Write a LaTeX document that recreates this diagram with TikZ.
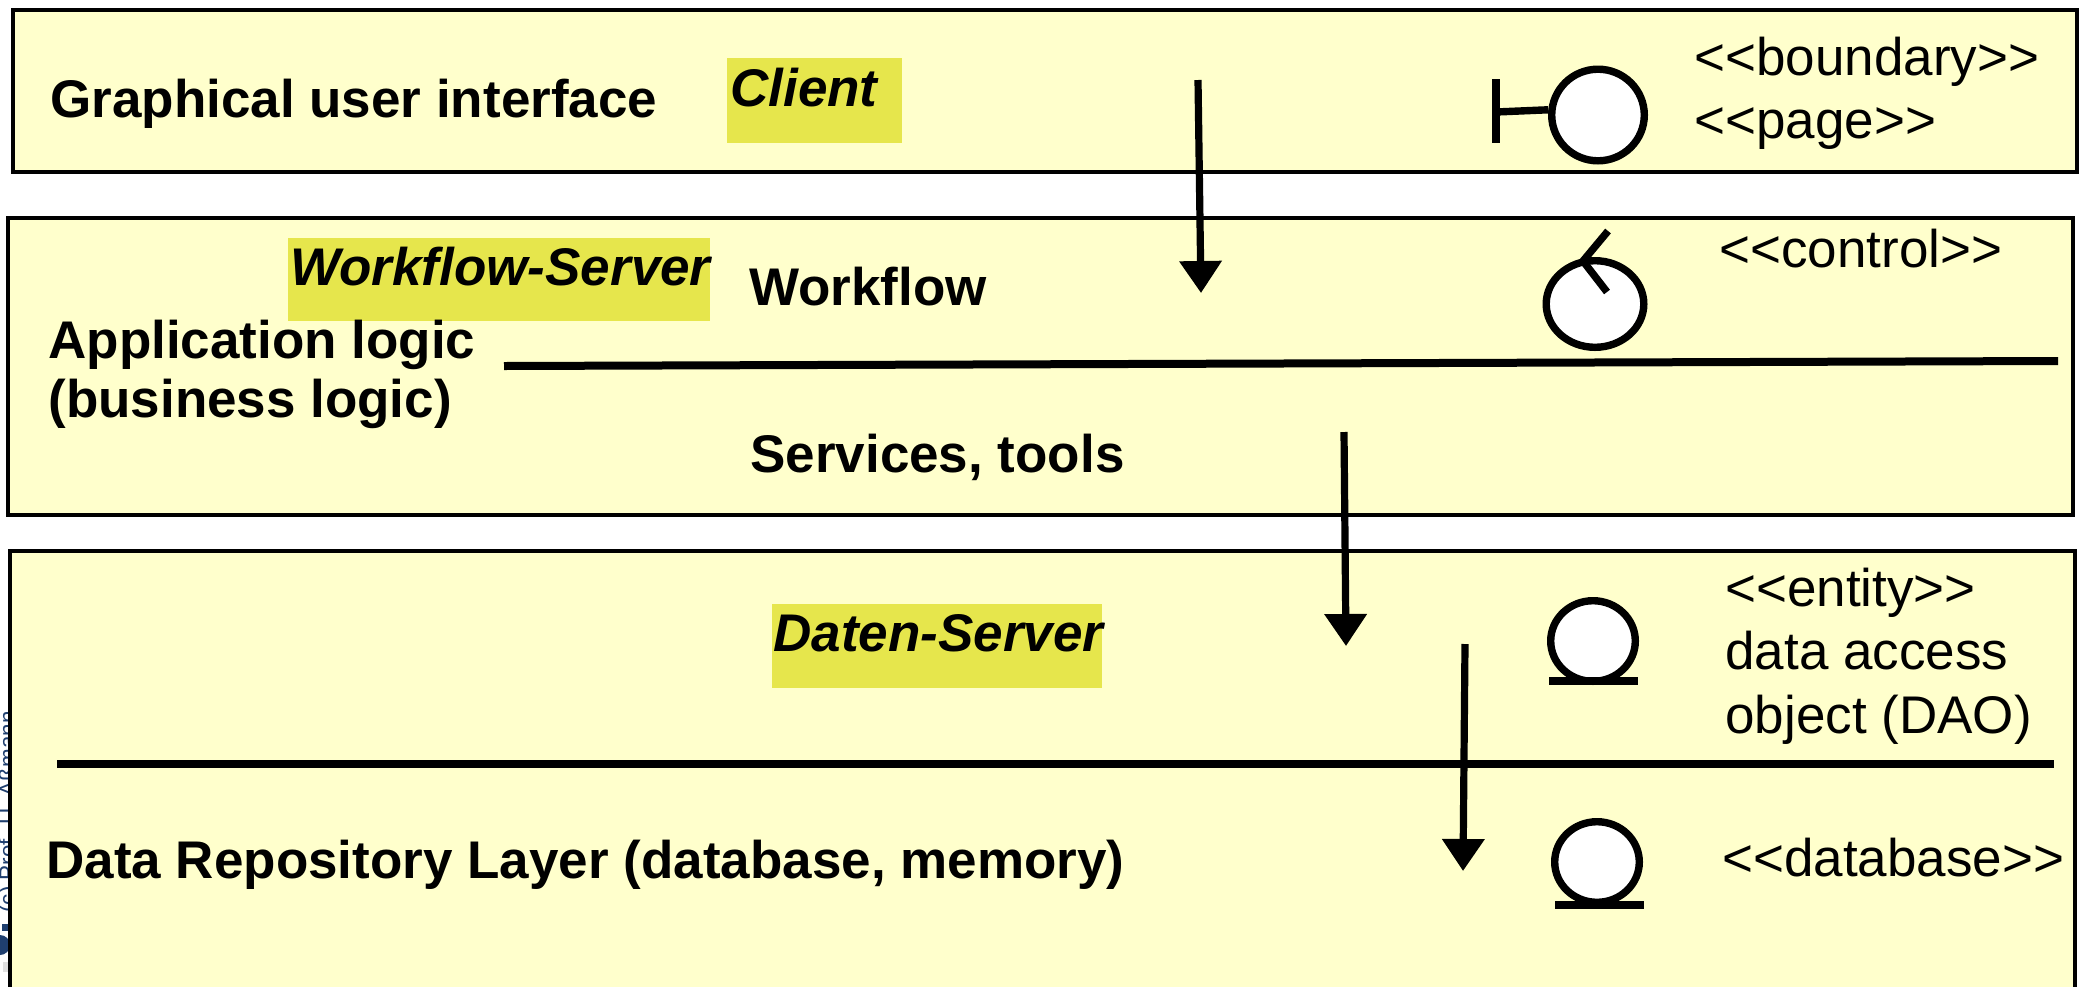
\documentclass[tikz,border=0pt]{standalone}
\usepackage{fontspec}
\setmainfont{Liberation Sans}
\usetikzlibrary{arrows.meta,shapes.geometric}
\definecolor{layer}{HTML}{FFFFCC}
\definecolor{hl}{HTML}{E6E64C}
\definecolor{logo}{HTML}{1F3F6F}
\tikzset{
  px/.style={x=0.5pt,y=-0.5pt},
  layerbox/.style={draw=black,line width=1.6pt,fill=layer},
  hlbox/.style={fill=hl,draw=none},
  blab/.style={font=\fontsize{26.5}{30}\selectfont\bfseries,anchor=base west,inner sep=0pt},
  ilab/.style={font=\fontsize{26.5}{30}\selectfont\bfseries\itshape,anchor=base west,inner sep=0pt},
  slab/.style={font=\fontsize{26.5}{30}\selectfont,anchor=base west,inner sep=0pt},
  sep/.style={line width=4pt},
  flow/.style={line width=3.6pt,-{Triangle[length=16pt,width=20.5pt]}},
  icon/.style={draw=black,line width=3.7pt,fill=white,ellipse,inner sep=0pt},
  iconline/.style={line width=3.7pt},
}
\begin{document}
\begin{tikzpicture}[px]
\useasboundingbox (0,0) rectangle (2082,986);
\fill[white] (0,0) rectangle (2082,986);
% margin text and logo, mostly hidden behind the lowest layer
\node[rotate=90,anchor=base west,inner sep=0pt,text=logo,font=\fontsize{11.2}{13}\selectfont] (margin) at (15,913) {(c) Prof. U. Aßmann};
\fill[logo] (2,924) rectangle (9,931);
\fill[logo] (0,945) circle[radius=10];
\fill[black!12] (3,962) rectangle (9,972);
% layers
\draw[layerbox] (13,10) rectangle (2077,172);
\draw[layerbox] (8,218) rectangle (2073,515);
\draw[layerbox] (10,551) rectangle (2075,1000);
% highlights
\fill[hlbox] (727,58) rectangle (902,143);
\fill[hlbox] (288,238) rectangle (710,321);
\fill[hlbox] (772,604) rectangle (1102,688);
% labels
\node[blab] (gui) at (50,117) {Graphical user interface};
\node[ilab] (client) at (730,106) {Client};
\node[slab] (boundary) at (1694,75) {<{}<boundary>{}>};
\node[slab] (page) at (1694,138) {<{}<page>{}>};
\node[ilab] (wfs) at (290,285) {Workflow-Server};
\node[blab] (wf) at (749,305) {Workflow};
\node[slab] (control) at (1719,267) {<{}<control>{}>};
\node[blab] (app) at (48,358) {Application logic};
\node[blab] (bl) at (48,417) {(business logic)};
\node[blab] (serv) at (750,472) {Services, tools};
\node[ilab] (ds) at (773,651) {Daten-Server};
\node[slab] (entity) at (1725,606) {<{}<entity>{}>};
\node[slab] (dao1) at (1725,669) {data access};
\node[slab] (dao2) at (1725,733) {object (DAO)};
\node[blab] (repo) at (46,878) {Data Repository Layer (database, memory)};
\node[slab] (dbl) at (1722,876) {<{}<database>{}>};
% separators
\coordinate (s1a) at (504,366); \coordinate (s1b) at (2058,361);
\draw[sep] (s1a) -- (s1b);
\coordinate (s2a) at (57,764); \coordinate (s2b) at (2054,764);
\draw[sep] (s2a) -- (s2b);
% arrows
\coordinate (a1) at (1198,80); \coordinate (a1e) at (1201,293);
\coordinate (a2) at (1344,432); \coordinate (a2e) at (1346,646);
\coordinate (a3) at (1465,644); \coordinate (a3e) at (1463,871);
\draw[flow] (a1) -- (a1e);
\draw[flow] (a2) -- (a2e);
\draw[flow] (a3) -- (a3e);
% boundary icon
\node[icon,minimum width=46.3pt,minimum height=45.8pt] (ib) at (1598,115) {};
\coordinate (bt) at (1496,79); \coordinate (bb) at (1496,143); \coordinate (bm) at (1496,112);
\draw[iconline] (bt) -- (bb);
\draw[iconline] (bm) -- (ib.174);
% control icon
\node[icon,minimum width=48.8pt,minimum height=43.3pt] (ic) at (1595,304) {};
\coordinate (c1) at (1608,231); \coordinate (c2) at (1583,261); \coordinate (c3) at (1607,292);
\draw[iconline] (c1) -- (c2) -- (c3);
% entity icon
\node[icon,minimum width=42.3pt,minimum height=40.3pt] (ie) at (1593,641) {};
\coordinate (e1) at (1549,681); \coordinate (e2) at (1638,681);
\draw[iconline] (e1) -- (e2);
% database icon
\node[icon,minimum width=42.3pt,minimum height=40.3pt] (id) at (1597,862) {};
\coordinate (d1) at (1555,905); \coordinate (d2) at (1644,905);
\draw[iconline] (d1) -- (d2);
\end{tikzpicture}
\end{document}
